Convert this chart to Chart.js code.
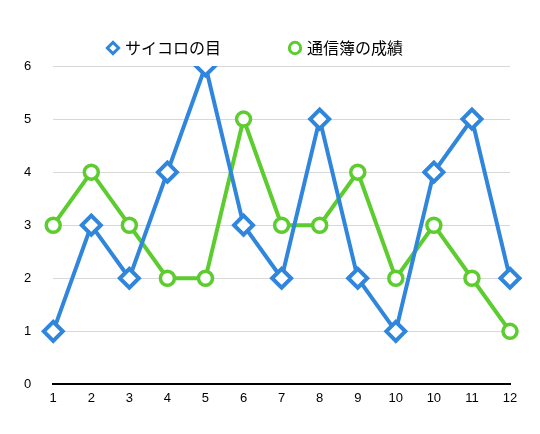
<!DOCTYPE html><html><head><script src="https://cdn.jsdelivr.net/npm/chart.js"></script>
<style>body{margin:0;background:#fff}#w{width:540px;height:434px}</style></head><body><div id="w"><canvas id="c"></canvas></div>
<script>
const labels=['1','2','3','4','5','6','7','8','9','10','10','11','12'];
const dice=[1,3,2,4,6,3,2,5,2,1,4,5,2];
const grades=[3,4,3,2,2,5,3,3,4,2,3,2,1];
const yTicks=[0,1,2,3,4,5,6];
new Chart(document.getElementById('c'),{type:'line',data:{labels,datasets:[
{label:'サイコロの目',data:dice,borderColor:'#2f86dc',backgroundColor:'#fff',borderWidth:4,pointStyle:'rectRot',pointRadius:9.5,pointBorderWidth:4,pointBackgroundColor:'#fff',tension:0},
{label:'通信簿の成績',data:grades,borderColor:'#5ccc2e',backgroundColor:'#fff',borderWidth:4,pointStyle:'circle',pointRadius:7,pointBorderWidth:3.5,pointBackgroundColor:'#fff',tension:0}]},
options:{responsive:true,maintainAspectRatio:false,animation:false,
layout:{padding:{left:2,right:30,top:18,bottom:22}},
plugins:{legend:{labels:{usePointStyle:true,boxWidth:8,boxHeight:8,padding:22,font:{family:'Noto Sans CJK JP',size:16},color:'#000',generateLabels(ch){const l=Chart.defaults.plugins.legend.labels.generateLabels(ch);l.forEach((i,k)=>{i.lineWidth=3;i.fillStyle='#fff';if(k===0)i.text=i.text+'\u3000\u3000\u3000';});return l;}}}},
scales:{x:{offset:false,grid:{display:false,drawTicks:false},border:{color:'#000',width:2},ticks:{color:'#000',font:{size:13},padding:6,autoSkip:false,maxRotation:0}},
y:{min:0,max:6,afterBuildTicks(a){a.ticks=yTicks.map(v=>({value:v}))},grid:{color:'#d8d8d8',drawTicks:false},border:{display:false},ticks:{color:'#000',font:{size:13},padding:22}}}}});
</script></body></html>
